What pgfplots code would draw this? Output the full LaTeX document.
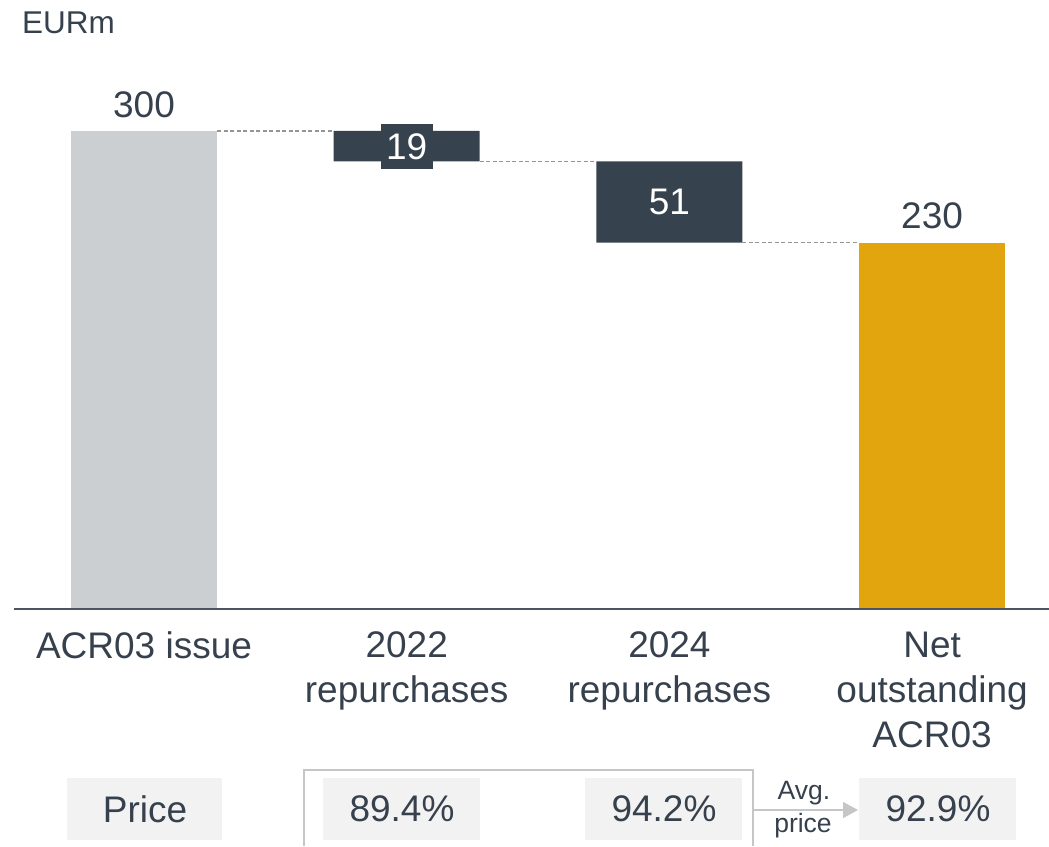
\documentclass[border=0pt]{standalone}
\usepackage{pgfplots}
\pgfplotsset{compat=1.18}
\usepackage{fontspec}
\setmainfont{Liberation Sans}
\usetikzlibrary{arrows.meta}
\definecolor{txt}{HTML}{36414D}
\definecolor{darkbar}{HTML}{36424E}
\definecolor{graybar}{HTML}{CBCFD2}
\definecolor{goldbar}{HTML}{E3A50E}
\definecolor{boxfill}{HTML}{F2F2F2}
\definecolor{outline}{HTML}{C6C6C6}
\definecolor{dashc}{HTML}{959595}
\definecolor{basec}{HTML}{4B5561}
\begin{document}
\begin{tikzpicture}
\begin{axis}[
  at={(0,0)}, anchor=north west,
  scale only axis, width=1049pt, height=846pt,
  xmin=-0.5482, xmax=3.4450, ymin=-148.75, ymax=382.2,
  ybar stacked, bar width=146pt,
  axis x line=middle, axis y line=none,
  axis line style={draw=none},
  major tick length=0pt,
  xtick={0,1,2,3},
  xticklabels={ACR03 issue, {2022\\repurchases}, {2024\\repurchases}, {Net\\outstanding\\ACR03}},
  x tick label style={font=\fontsize{37}{45}\selectfont, text=txt, align=center, anchor=north, inner sep=0pt, yshift=-22.5pt},
  ytick=\empty,
  clip=false,
]
% invisible base
\addplot[draw=none, fill=none] coordinates {(0,0) (1,281) (2,230) (3,0)};
% issue
\addplot[draw=none, fill=graybar] coordinates {(0,300) (1,0) (2,0) (3,0)};
% repurchases
\addplot[draw=none, fill=darkbar] coordinates {(0,0) (1,19) (2,51) (3,0)};
% net outstanding
\addplot[draw=none, fill=goldbar] coordinates {(0,0) (1,0) (2,0) (3,230)};

\coordinate (b0) at (axis cs:-0.4934,0);
\coordinate (b1) at (axis cs:3.445,0);
\coordinate (c0a) at (axis cs:0.278,300);
\coordinate (c0b) at (axis cs:0.722,300);
\coordinate (c1a) at (axis cs:1.278,281);
\coordinate (c1b) at (axis cs:1.722,281);
\coordinate (c2a) at (axis cs:2.278,230);
\coordinate (c2b) at (axis cs:2.722,230);
\coordinate (l300) at (axis cs:0,300);
\coordinate (l230) at (axis cs:3,230);
\coordinate (l19) at (axis cs:1,290.3);
\coordinate (l51) at (axis cs:2,255.5);
\end{axis}

% baseline
\draw[basec, line width=1.8pt] (b0) -- (b1);
% connectors
\draw[dashc, dash pattern=on 4pt off 2.5pt, line width=1.2pt] (c0a) -- (c0b);
\draw[dashc, dash pattern=on 4pt off 2.5pt, line width=1.2pt] (c1a) -- (c1b);
\draw[dashc, dash pattern=on 4pt off 2.5pt, line width=1.2pt] (c2a) -- (c2b);
% value labels
\node[anchor=south, inner sep=0pt, yshift=13pt, text=txt, font=\fontsize{37}{40}\selectfont] at (l300) {300};
\node[anchor=south, inner sep=0pt, yshift=13pt, text=txt, font=\fontsize{37}{40}\selectfont] at (l230) {230};
\node[fill=darkbar, text=white, minimum width=52pt, minimum height=45pt, inner sep=0pt, font=\fontsize{37}{40}\selectfont] at (l19) {19};
\node[text=white, inner sep=0pt, font=\fontsize{37}{40}\selectfont] at (l51) {51};

% unit label
\node[anchor=base west, inner sep=0pt, text=txt, font=\fontsize{31.5}{34}\selectfont] at (22pt,-33pt) {EURm};

% price row
\fill[boxfill] (67pt,-778pt) rectangle (222pt,-840pt);
\fill[boxfill] (323pt,-778pt) rectangle (480pt,-840pt);
\fill[boxfill] (585pt,-778pt) rectangle (742pt,-840pt);
\fill[boxfill] (859pt,-778pt) rectangle (1016pt,-840pt);
\draw[outline, line width=2pt] (304pt,-846pt) -- (304pt,-770pt) -- (753pt,-770pt) -- (753pt,-846pt);
\draw[outline, line width=1.6pt, -{Triangle[length=15pt,width=16pt]}] (753pt,-810pt) -- (858pt,-810pt);
\node[text=txt, inner sep=0pt, font=\fontsize{37}{40}\selectfont] at (145pt,-809pt) {Price};
\node[text=txt, inner sep=0pt, font=\fontsize{37}{40}\selectfont] at (402pt,-809pt) {89.4\%};
\node[text=txt, inner sep=0pt, font=\fontsize{37}{40}\selectfont] at (664pt,-809pt) {94.2\%};
\node[text=txt, inner sep=0pt, font=\fontsize{37}{40}\selectfont] at (938pt,-809pt) {92.9\%};
\node[text=txt, inner sep=0pt, font=\fontsize{26.5}{30}\selectfont] at (804pt,-793pt) {Avg.};
\node[text=txt, inner sep=0pt, font=\fontsize{26.5}{30}\selectfont] at (803pt,-826pt) {price};

\pgfresetboundingbox
\path[use as bounding box] (0pt,0pt) rectangle (1049pt,-846pt);
\end{tikzpicture}
\end{document}
